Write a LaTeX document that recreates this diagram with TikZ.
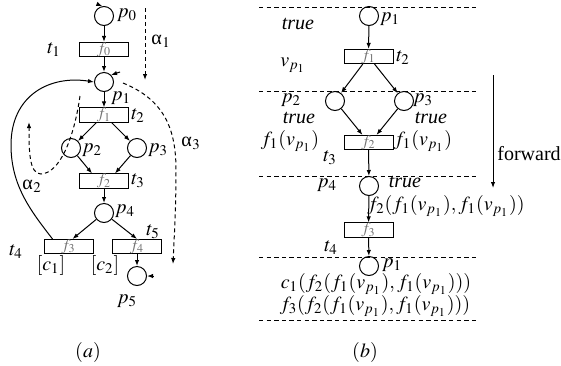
\documentclass[tikz,border=0pt]{standalone}
\usepackage{mathptmx}
\usepackage[no-math]{fontspec}
\setmainfont{Liberation Serif}
\usetikzlibrary{arrows.meta}
\tikzset{
  place/.style={circle,draw,line width=0.5pt,minimum size=9.5pt,inner sep=0pt},
  trans/.style={draw,line width=0.5pt,minimum width=24.5pt,minimum height=6.6pt,inner sep=0pt,
                font=\footnotesize,text=black!55},
  lbl/.style={inner sep=0pt},
  arr/.style={line width=0.5pt,-{Latex[length=3pt,width=2.2pt]}},
  dsh/.style={line width=0.5pt,dash pattern=on 2pt off 1.5pt},
  darr/.style={dsh,-{Latex[length=3pt,width=2.2pt]}},
  sep/.style={line width=0.5pt,dash pattern=on 2.2pt off 1.6pt}
}
\begin{document}
\begin{tikzpicture}[x=0.5pt,y=-0.5pt]
\useasboundingbox (0,0) rectangle (561,365);
% ---------------- (a) ----------------
\node[place] (p0) at (104,16) {};
\node[trans] (t1) at (104,49.5) {$f_0$};
\node[place] (p1) at (104,82) {};
\node[trans] (t2) at (104,115) {$f_1$};
\node[place] (p2) at (71,148) {};
\node[place] (p3) at (137,148) {};
\node[trans] (t3) at (104,181) {$f_2$};
\node[place] (p4) at (104,213) {};
\node[trans] (t4) at (68.5,246.5) {$f_3$};
\node[trans] (t5) at (137,246.5) {$f_4$};
\node[place] (p5) at (137,276) {};

\node[lbl] (lp0) at (127,15) {$p_0$};
\node[lbl] (lt1) at (54,50) {$t_1$};
\node[lbl] (la1) at (161,41) {α\kern0.3pt$_1$};
\node[lbl] (lp1) at (121,98) {$p_1$};
\node[lbl] (lt2) at (138,116) {$t_2$};
\node[lbl] (lp2) at (92,150) {$p_2$};
\node[lbl] (lp3) at (158,150) {$p_3$};
\node[lbl] (la3) at (191,143) {α\kern0.3pt$_3$};
\node[lbl] (lt3) at (138,181) {$t_3$};
\node[lbl] (la2) at (32,186) {α\kern0.3pt$_2$};
\node[lbl] (lp4) at (125,211) {$p_4$};
\node[lbl] (lt5) at (153,232) {$t_5$};
\node[lbl] (lt4) at (16,252) {$t_4$};
\node[lbl] (lc1) at (51,265) {$[c_1]$};
\node[lbl] (lc2) at (105,265) {$[c_2]$};
\node[lbl] (lp5) at (127,301) {$p_5$};
\node[lbl] (la) at (88,352) {$(a)$};

\draw[arr] (p0) -- (t1);
\draw[arr] (t1) -- (p1);
\draw[arr] (p1) -- (t2);
\draw[arr] (t2) -- (p2);
\draw[arr] (t2) -- (p3);
\draw[arr] (p2) -- ([xshift=-6pt]t3.north);
\draw[arr] (p3) -- ([xshift=5.5pt]t3.north);
\draw[arr] (t3) -- (p4);
\draw[arr] (p4) -- ([xshift=2pt]t4.north);
\draw[arr] (p4) -- (t5.north);
\draw[arr] (t5) -- (p5);

\coordinate (m0) at (97,4);
\coordinate (m1) at (120,72);
\coordinate (m5) at (153,276);
\draw[arr] (m0) -- (p0.100);
\draw[arr] (m1) -- (p1.45);
\draw[arr] (m5) -- (p5.east);

\coordinate (a2s) at ([xshift=-8pt]t4.north);
\draw[arr] (a2s) .. controls (30,210) and (11,185) .. (11,145)
                 .. controls (11,95) and (50,75) .. (p1.west);

\coordinate (a1s) at (145,8);
\coordinate (a1e) at (145,80);
\draw[darr] (a1s) -- (a1e);

\coordinate (b2s) at (80,96);
\coordinate (b2e) at (29,122);
\draw[darr] (b2s) .. controls (74,138) and (60,173) .. (41,174)
                  .. controls (29,174) and (29,150) .. (b2e);

\coordinate (b3s) at (123,83);
\coordinate (b3e) at (173,264);
\draw[darr] (b3s) .. controls (165,100) and (176,130) .. (176,170)
                  .. controls (176,210) and (174,240) .. (b3e);

% ---------------- (b) ----------------
\foreach \yy/\nm in {7/s1,91/s2,176/s3,257/s4,320/s5}{
  \coordinate (\nm a) at (259,\yy);
  \coordinate (\nm b) at (478,\yy);
  \draw[sep] (\nm a) -- (\nm b);
}
\node[place] (q1) at (369,16) {};
\node[trans] (u2) at (368.5,56.5) {$f_1$};
\node[place] (q2) at (335,101) {};
\node[place] (q3) at (404,101) {};
\node[trans] (u3) at (368.5,142.5) {$f_2$};
\node[place] (q4) at (369,186) {};
\node[trans] (u4) at (368.5,230) {$f_3$};
\node[place] (q5) at (369,266) {};

\node[lbl] (r1) at (298,24) {\textit{true}};
\node[lbl] (r2) at (293,65) {$v_{p_1}$};
\node[lbl] (r3) at (390,19) {$p_1$};
\node[lbl] (r4) at (403,58) {$t_2$};
\node[lbl] (r5) at (291,100) {$p_2$};
\node[lbl] (r6) at (299,118) {\textit{true}};
\node[lbl] (r7) at (290,141) {$f_1(v_{p_1})$};
\node[lbl] (r8) at (423,100) {$p_3$};
\node[lbl] (r9) at (431,118) {\textit{true}};
\node[lbl] (r10) at (423,141) {$f_1(v_{p_1})$};
\node[lbl] (r11) at (330,158) {$t_3$};
\node[lbl] (r12) at (327,185) {$p_4$};
\node[lbl] (r13) at (405,182) {\textit{true}};
\node[lbl] (r14) at (446,206) {$f_2(f_1(v_{p_1}),f_1(v_{p_1}))$};
\node[lbl] (r15) at (331,248) {$t_4$};
\node[lbl] (r16) at (392,265) {$p_1$};
\node[lbl] (r17) at (376,284) {$c_1(f_2(f_1(v_{p_1}),f_1(v_{p_1})))$};
\node[lbl] (r18) at (375,306) {$f_3(f_2(f_1(v_{p_1}),f_1(v_{p_1})))$};
\node[lbl] (lb) at (365,352) {$(b)$};
\node[lbl,anchor=west] (fw) at (497,154) {forward};

\draw[arr] (q1) -- (u2);
\draw[arr] (u2) -- (q2);
\draw[arr] (u2) -- (q3);
\draw[arr] (q2) -- ([xshift=-3pt]u3.north);
\draw[arr] (q3) -- ([xshift=4pt]u3.north);
\draw[arr] (u3) -- (q4);
\draw[arr] (q4) -- (u4);
\draw[arr] (u4) -- (q5);

\coordinate (fs) at (493,75);
\coordinate (fe) at (493,188);
\draw[arr] (fs) -- (fe);
\end{tikzpicture}
\end{document}
